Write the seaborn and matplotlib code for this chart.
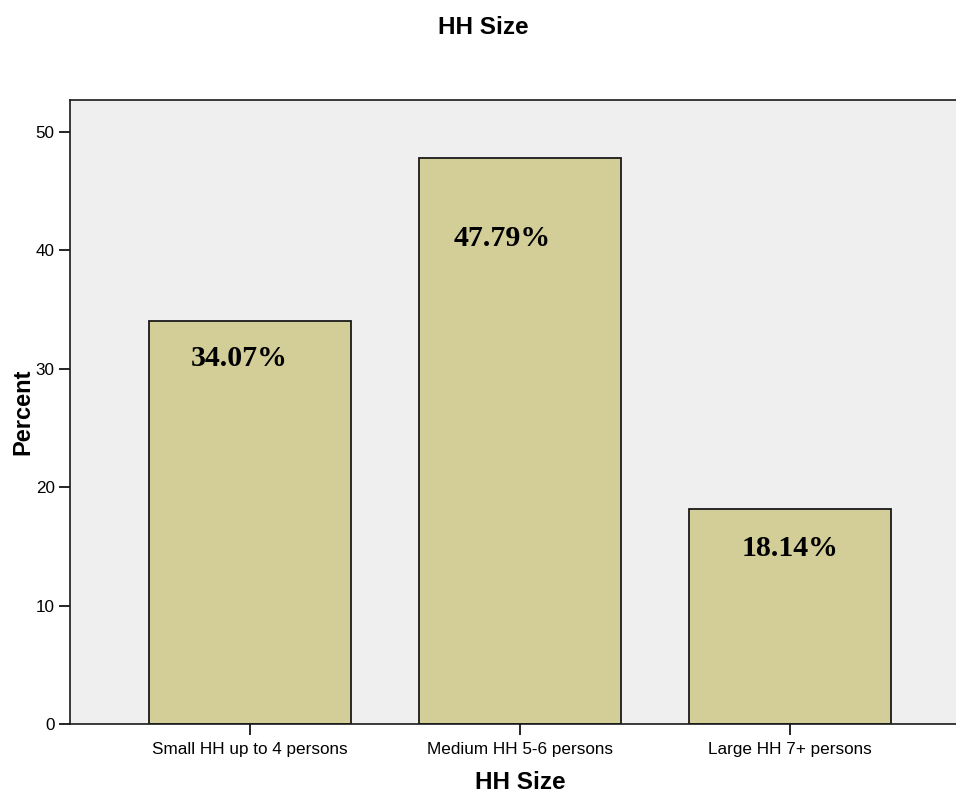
import matplotlib
matplotlib.use("Agg")
import matplotlib.pyplot as plt
import seaborn as sns
import pandas as pd

categories = ["Small HH up to 4 persons", "Medium HH 5-6 persons", "Large HH 7+ persons"]
percent = [34.07, 47.79, 18.14]
value_labels = ["34.07%", "47.79%", "18.14%"]
label_drop = [3.2, 6.8, 3.3]      # how far below bar top each label sits (data units)
label_shift = [-0.04, -0.067, 0.0]  # horizontal nudge of each label (category units)

sns.set_theme(style="white")
plt.rcParams["font.family"] = ["Liberation Sans", "DejaVu Sans"]
plt.rcParams["text.color"] = "black"
plt.rcParams["axes.labelcolor"] = "black"

df = pd.DataFrame({"HH Size": categories, "Percent": percent})

fig = plt.figure(figsize=(9.56, 7.93), dpi=100)
ax = fig.add_axes([70 / 956, 1 - 724 / 793, 900 / 956, 624 / 793])
ax.set_facecolor("#EFEFEF")

sns.barplot(data=df, x="HH Size", y="Percent", color="#D3CE98", saturation=1,
            width=0.75, edgecolor="#1a1a1a", linewidth=1.3, ax=ax)

for i, (v, lab, d, s) in enumerate(zip(percent, value_labels, label_drop, label_shift)):
    ax.text(i + s, v - d, lab, ha="center", va="center", fontsize=21.5, fontweight="bold",
            family=["Liberation Serif", "DejaVu Serif"], color="black")

ax.set_xlim(-0.667, 2.667)
ax.set_ylim(0, 52.7)
ax.set_yticks([0, 10, 20, 30, 40, 50])
ax.tick_params(axis="both", direction="out", length=8, width=1.2, color="black",
               labelsize=12.3, labelcolor="black", pad=3)
ax.tick_params(axis="x", pad=5)
ax.xaxis.set_ticks_position("bottom")
ax.yaxis.set_ticks_position("left")
for sp in ax.spines.values():
    sp.set_color("#1a1a1a")
    sp.set_linewidth(1.2)
    sp.set_visible(True)

ax.set_xlabel("HH Size", fontsize=17.5, fontweight="bold", labelpad=10, color="black")
ax.set_ylabel("Percent", fontsize=17, fontweight="bold", labelpad=1, color="black")
fig.text(483 / 956, 1 - 28 / 793, "HH Size", fontsize=17.5, fontweight="bold",
         ha="center", va="center", color="black")

fig.savefig("out.png", dpi=100, facecolor="white")
